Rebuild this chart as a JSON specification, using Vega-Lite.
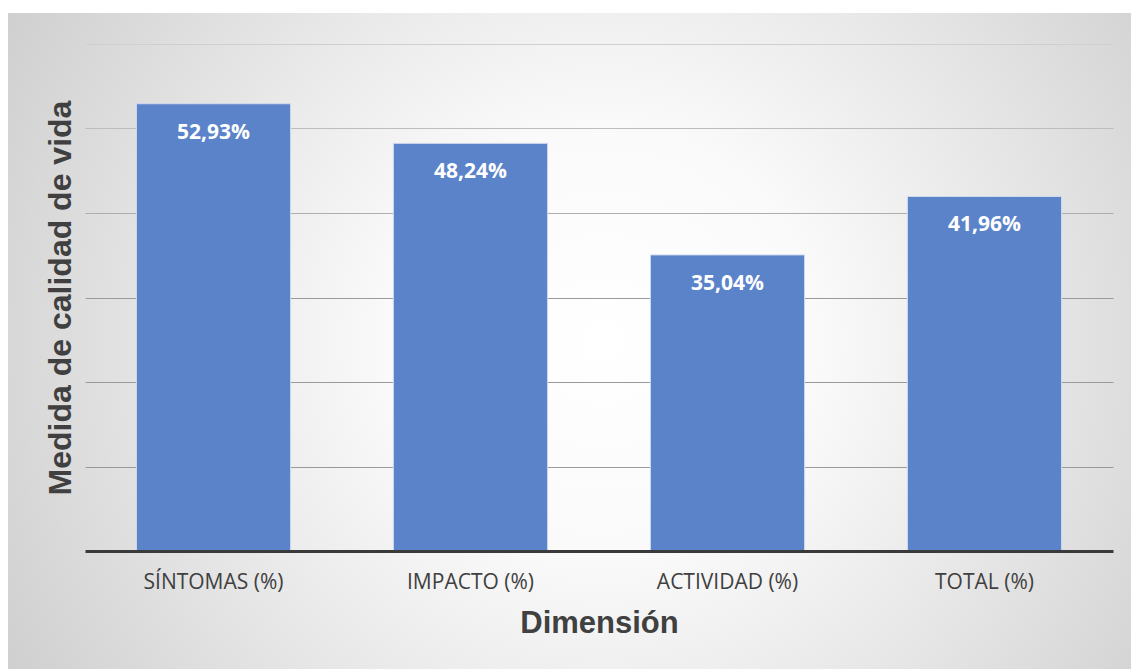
{
  "$schema": "https://vega.github.io/schema/vega-lite/v6.json",
  "width": 1123,
  "height": 656,
  "autosize": {"type": "none"},
  "padding": {"left": 8, "top": 13, "right": 0, "bottom": 0},
  "background": "#ffffff",
  "view": {
    "stroke": null,
    "fill": {
      "gradient": "radial",
      "x1": 0.53, "y1": 0.5, "r1": 0,
      "x2": 0.53, "y2": 0.5, "r2": 0.76,
      "stops": [
        {"offset": 0, "color": "#ffffff"},
        {"offset": 0.25, "color": "#fafafa"},
        {"offset": 0.55, "color": "#e3e3e3"},
        {"offset": 0.8, "color": "#cfcfcf"},
        {"offset": 1, "color": "#c2c2c2"}
      ]
    }
  },
  "config": {
    "locale": {"number": {"decimal": ",", "thousands": ".", "grouping": [3], "currency": ["", " €"]}}
  },
  "data": {
    "values": [
      {"dimension": "SÍNTOMAS (%)", "valor": 0.5293},
      {"dimension": "IMPACTO (%)", "valor": 0.4824},
      {"dimension": "ACTIVIDAD (%)", "valor": 0.3504},
      {"dimension": "TOTAL (%)", "valor": 0.4196}
    ]
  },
  "encoding": {
    "x": {
      "field": "dimension",
      "type": "nominal",
      "sort": null,
      "scale": {"range": [77, 1105], "paddingInner": 0.4, "paddingOuter": 0.2},
      "axis": {
        "offset": -118,
        "zindex": 1,
        "labelAngle": 0,
        "ticks": false,
        "domainColor": "#3a3a3a",
        "domainWidth": 3,
        "labelFont": "Open Sans",
        "labelFontSize": 21,
        "labelColor": "#404040",
        "labelPadding": 20,
        "title": "Dimensión",
        "titleFont": "Liberation Sans",
        "titleFontSize": 31,
        "titleFontWeight": "bold",
        "titleColor": "#404040",
        "titlePadding": 16
      }
    },
    "y": {
      "field": "valor",
      "type": "quantitative",
      "scale": {"domain": [0, 0.6], "range": [538, 31], "nice": false, "zero": true},
      "axis": {
        "offset": -77,
        "values": [0.1, 0.2, 0.3, 0.4, 0.5, 0.6],
        "labels": false,
        "ticks": false,
        "domain": false,
        "grid": true,
        "gridColor": {
          "condition": [
            {"test": "datum.value > 0.55", "value": "#cfcfcf"},
            {"test": "datum.value > 0.45", "value": "#bdbdbd"},
            {"test": "datum.value > 0.35", "value": "#aeaeae"}
          ],
          "value": "#9a9a9a"
        },
        "gridWidth": 1,
        "title": "Medida de calidad de vida",
        "titleFont": "Liberation Sans",
        "titleFontSize": 32,
        "titleFontWeight": "bold",
        "titleColor": "#404040",
        "titlePadding": 8
      }
    }
  },
  "layer": [
    {
      "mark": {"type": "bar", "color": "#5b83ca", "stroke": "#d3dcef", "strokeWidth": 1}
    },
    {
      "mark": {
        "type": "text",
        "color": "#ffffff",
        "font": "Open Sans",
        "fontSize": 21,
        "fontWeight": "bold",
        "baseline": "alphabetic",
        "dy": 35
      },
      "encoding": {
        "text": {"field": "valor", "type": "quantitative", "format": ".2%"}
      }
    }
  ]
}
